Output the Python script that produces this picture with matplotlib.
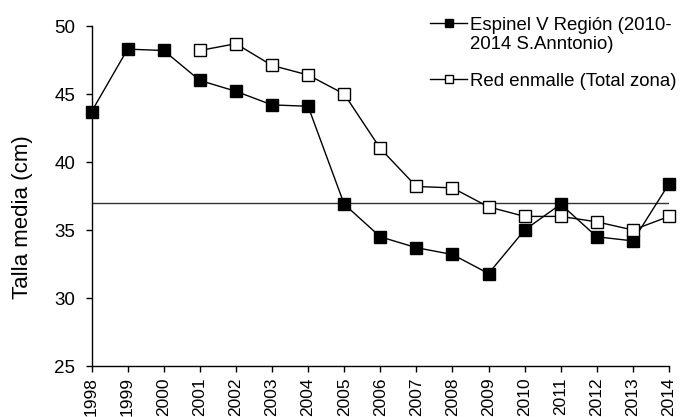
import numpy as np
import matplotlib.pyplot as plt

plt.rcParams['font.family'] = ['Liberation Sans', 'DejaVu Sans']

years = list(range(1998, 2015))
espinel = [43.7, 48.3, 48.2, 46.0, 45.2, 44.2, 44.1, 36.9, 34.5, 33.7, 33.2,
           31.8, 35.0, 36.9, 34.5, 34.2, 38.4]
red_years = list(range(2001, 2015))
red = [48.2, 48.7, 47.1, 46.4, 45.0, 41.0, 38.2, 38.1, 36.7, 36.0, 36.0,
       35.6, 35.0, 36.0]
ref_level = 37.0

fig = plt.figure(figsize=(6.83, 4.17), dpi=100)
ax = fig.add_axes([0.134, 0.1223, 0.8455, 0.8153])

ax.axhline(ref_level, color='#333333', lw=1.0, zorder=1)
ax.plot(years, espinel, color='black', lw=1.0, marker='s', markersize=8,
        markerfacecolor='black', markeredgecolor='black', clip_on=False,
        label='Espinel V Región (2010-\n2014 S.Anntonio)', zorder=3)
ax.plot(red_years, red, color='black', lw=1.0, marker='s', markersize=8,
        markerfacecolor='white', markeredgecolor='black', clip_on=False,
        label='Red enmalle (Total zona)', zorder=3)

ax.set_xlim(1998, 2014)
ax.set_ylim(25, 50)
ax.set_xticks(years)
ax.set_xticklabels([str(y) for y in years], rotation=90, fontsize=12.5)
ax.set_yticks([25, 30, 35, 40, 45, 50])
ax.tick_params(direction='out', length=4.5, width=1)
ax.tick_params(axis='y', labelsize=13.5, pad=7.3)
ax.tick_params(axis='x', pad=3.5)
ax.set_ylabel('Talla media (cm)', fontsize=16)
ax.yaxis.set_label_coords(-0.101, 0.438)

for s in ['top', 'right']:
    ax.spines[s].set_visible(False)
ax.spines['left'].set_linewidth(1)
ax.spines['bottom'].set_linewidth(1)

leg = fig.legend(loc='upper left', bbox_to_anchor=(0.605, 1.0), frameon=False,
                 fontsize=13.4, handlelength=2.0, handletextpad=0.15,
                 labelspacing=1.05, markerscale=0.75)
# put the handle next to the first line of a two-line label
for col in leg._legend_handle_box.get_children():
    for row in col.get_children():
        row.align = 'top'

fig.savefig('out.png', dpi=100)
